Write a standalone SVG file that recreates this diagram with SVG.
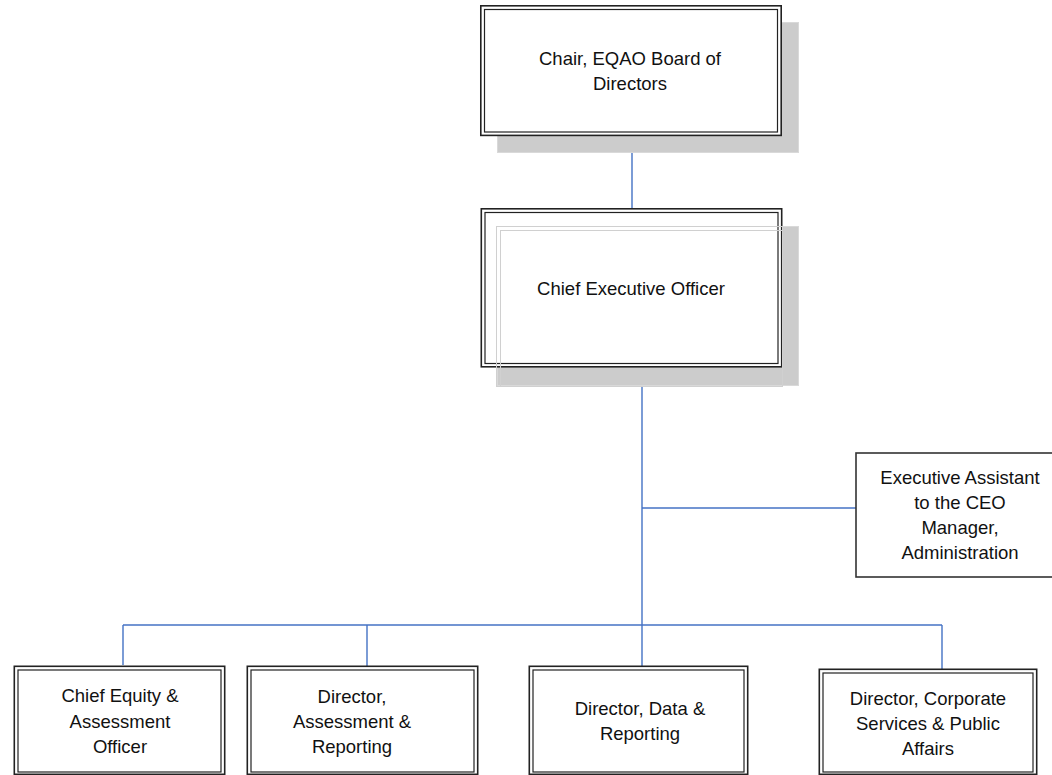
<svg xmlns="http://www.w3.org/2000/svg" width="1052" height="775" viewBox="0 0 1052 775">
<style>
.shadow{fill:#cccccc;stroke:#d9d9d9;stroke-width:1}
.box{fill:#ffffff}
.outer{fill:none;stroke:#222;stroke-width:1.6}
.inner{fill:none;stroke:#222;stroke-width:1.2}
.single{fill:#ffffff;stroke:#333;stroke-width:1.6}
.ghost{fill:none;stroke:#d0d0d0;stroke-width:1}
.conn{fill:none;stroke:#4472c4;stroke-width:1.4}
text{font-family:"Liberation Sans",Arial,sans-serif;font-size:18.5px;fill:#111;text-anchor:middle}
</style>
<g id="connectors">
<path class="conn" d="M632,136 V209"/>
<path class="conn" d="M642,367 V667"/>
<path class="conn" d="M642,508 H856"/>
<path class="conn" d="M123,625 H942"/>
<path class="conn" d="M123,625 V665"/>
<path class="conn" d="M367,625 V666"/>
<path class="conn" d="M942,625 V669"/>
</g>
<g id="chair">
<rect class="shadow" x="497.5" y="22.5" width="301" height="130"/>
<rect class="box" x="480.5" y="5.5" width="301" height="130"/>
<rect class="outer" x="480.8" y="5.8" width="300.4" height="129.6"/>
<rect class="inner" x="484.5" y="9.5" width="293" height="122.5"/>
<text x="630" y="65">Chair, EQAO Board of</text>
<text x="630" y="90">Directors</text>
</g>
<g id="ceo">
<rect class="shadow" x="497.5" y="226.5" width="301" height="159"/>
<rect class="box" x="481" y="208.5" width="301" height="158.5"/>
<rect class="outer" x="481.3" y="208.8" width="300.4" height="158"/>
<rect class="inner" x="485" y="212.5" width="293" height="151"/>
<rect class="ghost" x="496.5" y="226.5" width="286" height="160"/>
<rect class="ghost" x="500.5" y="230.5" width="282" height="156"/>
<text x="631" y="295">Chief Executive Officer</text>
</g>
<g id="exec-assistant">
<rect class="single" x="856" y="453" width="200" height="124"/>
<text x="960" y="484">Executive Assistant</text>
<text x="960" y="509">to the CEO</text>
<text x="960" y="534">Manager,</text>
<text x="960" y="559">Administration</text>
</g>
<g id="chief-equity">
<rect class="box" x="14" y="666" width="211" height="110"/>
<rect class="outer" x="14.3" y="666.3" width="210.4" height="108"/>
<rect class="inner" x="18" y="670" width="203" height="102"/>
<text x="120" y="702">Chief Equity &amp;</text>
<text x="120" y="728">Assessment</text>
<text x="120" y="753">Officer</text>
</g>
<g id="dir-assessment">
<rect class="box" x="247" y="666" width="231" height="110"/>
<rect class="outer" x="247.3" y="666.3" width="230.4" height="108"/>
<rect class="inner" x="251" y="670" width="223" height="102"/>
<text x="352" y="703">Director,</text>
<text x="352" y="728">Assessment &amp;</text>
<text x="352" y="753">Reporting</text>
</g>
<g id="dir-data">
<rect class="box" x="529" y="666" width="219" height="110"/>
<rect class="outer" x="529.3" y="666.3" width="218.4" height="108"/>
<rect class="inner" x="533" y="670" width="211" height="102"/>
<text x="640" y="715">Director, Data &amp;</text>
<text x="640" y="740">Reporting</text>
</g>
<g id="dir-corporate">
<rect class="box" x="819" y="669" width="218" height="107"/>
<rect class="outer" x="819.3" y="669.3" width="217.4" height="105"/>
<rect class="inner" x="823" y="673" width="210" height="99"/>
<text x="928" y="705">Director, Corporate</text>
<text x="928" y="730">Services &amp; Public</text>
<text x="928" y="755">Affairs</text>
</g>
</svg>
